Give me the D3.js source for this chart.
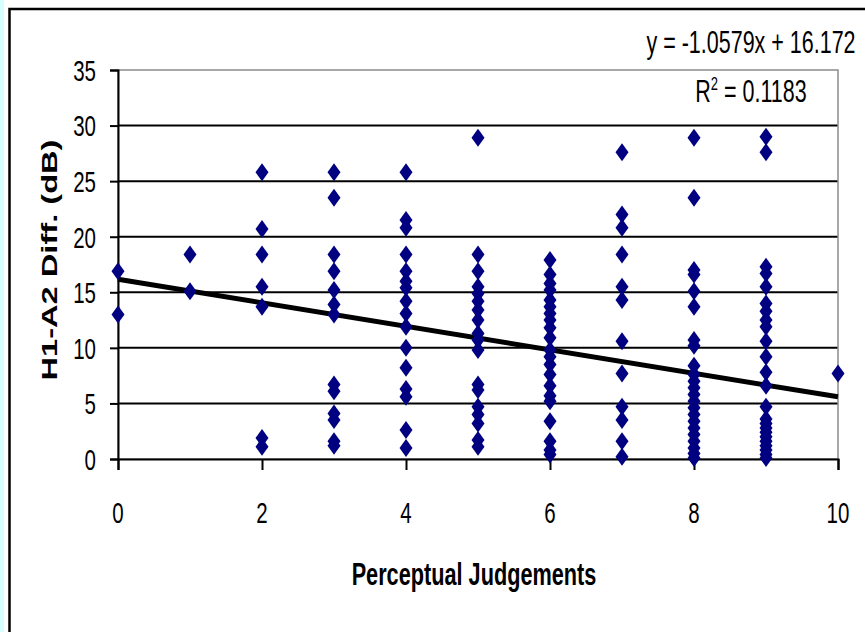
<!DOCTYPE html>
<html>
<head>
<meta charset="utf-8">
<script src="https://cdn.jsdelivr.net/npm/d3@7"></script>
<style>
  body { margin: 0; background: #fff; }
  svg { display: block; font-family: "Liberation Sans", Arial, sans-serif; }
</style>
</head>
<body>
<script>
// Perceptual judgement (x) and the H1-A2 differences (dB), one array per judgement
const judgements = [0, 1, 2, 3, 4, 5, 6, 7, 8, 9, 10];
const diffs0 = [16.9, 13.0];
const diffs1 = [18.4, 15.1];
const diffs2 = [25.8, 20.7, 18.4, 15.5, 13.7, 1.9, 1.1];
const diffs3 = [25.8, 23.5, 18.4, 16.9, 15.2, 13.9, 13.0, 6.7, 6.1, 4.1, 3.5, 1.6, 1.2];
const diffs4 = [25.8, 21.5, 20.8, 18.4, 16.9, 16.0, 15.4, 14.2, 13.1, 11.9, 10.0, 8.2, 6.3, 5.6, 2.6, 1.0];
const diffs5 = [28.9, 18.4, 16.9, 15.5, 14.9, 14.2, 13.4, 12.5, 11.3, 10.7, 9.8, 6.7, 6.2, 4.7, 4.0, 3.2, 1.7, 1.1];
const diffs6 = [17.9, 16.6, 15.8, 15.2, 14.3, 13.7, 13.1, 12.5, 11.8, 10.9, 9.8, 9.2, 8.5, 7.6, 6.6, 5.7, 5.2, 3.4, 1.6, 0.8, 0.4];
const diffs7 = [27.6, 22.0, 20.8, 18.4, 15.5, 14.3, 10.6, 7.7, 4.7, 3.5, 1.6, 0.2];
const diffs8 = [28.9, 23.5, 17.0, 16.6, 15.1, 13.7, 10.7, 10.2, 8.4, 7.6, 7.0, 6.4, 5.8, 5.2, 4.6, 4.0, 3.4, 2.8, 2.2, 1.6, 1.0, 0.5, 0.1];
const diffs9 = [29.0, 27.6, 17.3, 16.7, 15.5, 14.0, 13.3, 12.5, 11.9, 10.6, 9.2, 7.8, 6.6, 4.7, 3.6, 3.2, 2.8, 2.4, 2.0, 1.6, 1.2, 0.8, 0.4, 0.1];
const diffs10 = [7.7];
const allDiffs = [diffs0, diffs1, diffs2, diffs3, diffs4, diffs5, diffs6, diffs7, diffs8, diffs9, diffs10];

// linear trendline as printed on the chart
const slope = -1.0579;
const intercept = 16.172;
const equationLabel = "y = -1.0579x + 16.172";
const r2Value = "0.1183";

const xTicks = [0, 2, 4, 6, 8, 10];
const yTicks = [0, 5, 10, 15, 20, 25, 30, 35];
const xTitle = "Perceptual Judgements";
const yTitle = "H1-A2 Diff. (dB)";

const W = 865, H = 632;
const STRETCH = 1.45; // the original is squashed sideways, text looks narrow

const points = [];
judgements.forEach((j, i) => allDiffs[i].forEach(v => points.push({ x: j, y: v })));

const x = d3.scaleLinear().domain([0, 10]).range([118, 838]);
const y = d3.scaleLinear().domain([0, 35]).range([459, 70]);

const svg = d3.select("body").append("svg")
  .attr("width", W)
  .attr("height", H);

// light cyan strip at the far left and the clipped outer frame
svg.append("rect").attr("x", 0).attr("y", 0).attr("width", 4).attr("height", H).attr("fill", "#d4ffff");
svg.append("path")
  .attr("d", `M9.5,${H + 5}V9H${W + 5}`)
  .attr("fill", "none")
  .attr("stroke", "#000")
  .attr("stroke-width", 2.5);

// gridlines
svg.append("g")
  .selectAll("line")
  .data(yTicks.filter(t => t > 0 && t < 35))
  .join("line")
  .attr("x1", x(0)).attr("x2", x(10))
  .attr("y1", d => y(d)).attr("y2", d => y(d))
  .attr("stroke", "#000")
  .attr("stroke-width", 2);

// plot area border (gray)
svg.append("rect")
  .attr("x", x(0)).attr("y", y(35))
  .attr("width", x(10) - x(0)).attr("height", y(0) - y(35))
  .attr("fill", "none")
  .attr("stroke", "#8c8c8c")
  .attr("stroke-width", 1.5);

// axes (lines and ticks only, labels drawn below)
const yAxis = svg.append("g")
  .attr("transform", `translate(${x(0)},0)`)
  .call(d3.axisLeft(y).tickValues(yTicks).tickSize(8).tickFormat(""));
const xAxis = svg.append("g")
  .attr("transform", `translate(0,${y(0)})`)
  .call(d3.axisBottom(x).tickValues(xTicks).tickSize(11).tickFormat(""));
[yAxis, xAxis].forEach(a => {
  a.select(".domain").attr("stroke", "#000").attr("stroke-width", 2);
  a.selectAll(".tick line").attr("stroke", "#000").attr("stroke-width", 2);
});

// tick labels
svg.append("g")
  .selectAll("text")
  .data(yTicks)
  .join("text")
  .attr("transform", d => `translate(96,${y(d) + 10.8}) scale(1,${STRETCH})`)
  .attr("text-anchor", "end")
  .attr("font-size", 20.5)
  .attr("fill", "#000")
  .text(d => d);

svg.append("g")
  .selectAll("text")
  .data(xTicks)
  .join("text")
  .attr("transform", d => `translate(${x(d)},523) scale(1,${STRETCH})`)
  .attr("text-anchor", "middle")
  .attr("font-size", 20.5)
  .attr("fill", "#000")
  .text(d => d);

// axis titles
svg.append("text")
  .attr("transform", `translate(474,585) scale(1,${STRETCH})`)
  .attr("text-anchor", "middle")
  .attr("font-size", 21.7)
  .attr("font-weight", "bold")
  .text(xTitle);

svg.append("text")
  .attr("transform", `translate(57,260) rotate(-90) scale(${STRETCH},1)`)
  .attr("text-anchor", "middle")
  .attr("font-size", 22.5)
  .attr("font-weight", "bold")
  .text(yTitle);

// trendline
const trend = d3.line()
  .x(d => x(d))
  .y(d => y(slope * d + intercept));
svg.append("path")
  .datum([0, 10])
  .attr("d", trend)
  .attr("fill", "none")
  .attr("stroke", "#000")
  .attr("stroke-width", 5);

// diamond markers
svg.append("g")
  .selectAll("path")
  .data(points)
  .join("path")
  .attr("transform", d => `translate(${x(d.x)},${y(d.y)})`)
  .attr("d", "M0,-9L6.5,0L0,9L-6.5,0Z")
  .attr("fill", "#000080");

// trendline label
svg.append("text")
  .attr("transform", `translate(751,53) scale(1,${STRETCH})`)
  .attr("text-anchor", "middle")
  .attr("font-size", 21.5)
  .text(equationLabel);

const r2 = svg.append("text")
  .attr("transform", `translate(751,101.7) scale(1,${STRETCH})`)
  .attr("text-anchor", "middle")
  .attr("font-size", 21.5);
r2.append("tspan").text("R");
r2.append("tspan").attr("font-size", 13).attr("dy", -8).text("2");
r2.append("tspan").attr("dy", 8).text(" = " + r2Value);
</script>
</body>
</html>
